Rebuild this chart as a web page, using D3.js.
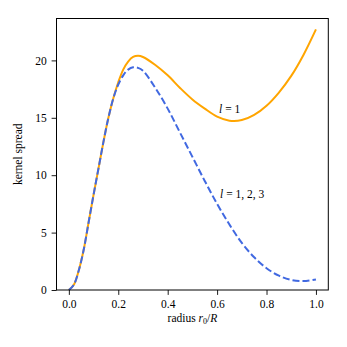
<!DOCTYPE html>
<html>
<head>
<meta charset="utf-8">
<script src="https://cdn.jsdelivr.net/npm/d3@7"></script>
<style>
  body { margin: 0; background: #fff; }
  text { font-family: "Liberation Serif", "DejaVu Serif", serif; fill: #000; }
</style>
</head>
<body>
<script>
// radius r0/R の標本点
var radius = [0, 0.02, 0.04, 0.06, 0.08, 0.10, 0.12, 0.14, 0.16, 0.18,
              0.20, 0.22, 0.24, 0.26, 0.28, 0.30, 0.35, 0.40, 0.45, 0.50,
              0.55, 0.60, 0.65, 0.70, 0.75, 0.80, 0.85, 0.90, 0.95, 1.00];

// l = 1 (実線・オレンジ)
var spreadL1 = [0, 0.45, 1.7, 3.5, 5.9, 8.3, 10.6, 12.9, 15.0, 16.7,
                18.1, 19.2, 19.9, 20.3, 20.4, 20.3, 19.6, 18.7, 17.6, 16.6,
                15.8, 15.1, 14.75, 14.8, 15.25, 16.05, 17.2, 18.65, 20.5, 22.7];

// l = 1, 2, 3 (破線・青)
var spreadL123 = [0, 0.45, 1.7, 3.5, 5.9, 8.3, 10.6, 12.9, 15.0, 16.7,
                  17.9, 18.7, 19.2, 19.4, 19.35, 19.1, 17.6, 15.8, 13.7, 11.6,
                  9.5, 7.5, 5.7, 4.1, 2.85, 1.9, 1.25, 0.88, 0.78, 0.92];

var xTicks = [0, 0.2, 0.4, 0.6, 0.8, 1.0];
var yTicks = [0, 5, 10, 15, 20];

var width = 347, height = 347;
var plotL = 56.5, plotR = 328.3, plotT = 18.5, plotB = 290;
var tickLen = 4.9, tickPad = 4.9;

var svg = d3.select("body").append("svg")
    .attr("width", width)
    .attr("height", height);

var x = d3.scaleLinear().domain([-0.05, 1.05]).range([plotL, plotR]);
var y = d3.scaleLinear().domain([0, 23.65]).range([plotB, plotT]);

// 曲線
var line = d3.line()
    .x(function(d) { return x(d[0]); })
    .y(function(d) { return y(d[1]); })
    .curve(d3.curveCatmullRom.alpha(0.5));

svg.append("path")
    .datum(d3.zip(radius, spreadL1))
    .attr("d", line)
    .attr("fill", "none")
    .attr("stroke", "#FFA500")
    .attr("stroke-width", 2);

svg.append("path")
    .datum(d3.zip(radius, spreadL123))
    .attr("d", line)
    .attr("fill", "none")
    .attr("stroke", "#4169E1")
    .attr("stroke-width", 2)
    .attr("stroke-dasharray", "7,3");

// 軸
function styleAxis(g) {
    g.attr("font-family", null).attr("font-size", null);
    g.select(".domain").remove();
    g.selectAll("line").attr("stroke", "#000").attr("stroke-width", 0.9);
    g.selectAll("text").style("font-size", "11.5px");
}

svg.append("g")
    .attr("transform", "translate(0," + plotB + ")")
    .call(d3.axisBottom(x).tickValues(xTicks).tickFormat(d3.format(".1f"))
        .tickSizeInner(tickLen).tickSizeOuter(0).tickPadding(tickPad))
    .call(styleAxis);

svg.append("g")
    .attr("transform", "translate(" + plotL + ",0)")
    .call(d3.axisLeft(y).tickValues(yTicks).tickFormat(d3.format("d"))
        .tickSizeInner(tickLen).tickSizeOuter(0).tickPadding(tickPad))
    .call(styleAxis);

// 枠
svg.append("rect")
    .attr("x", plotL).attr("y", plotT)
    .attr("width", plotR - plotL).attr("height", plotB - plotT)
    .attr("fill", "none")
    .attr("stroke", "#000")
    .attr("stroke-width", 1);

// 軸ラベル
var xl = svg.append("text")
    .attr("x", (plotL + plotR) / 2).attr("y", 322)
    .attr("text-anchor", "middle")
    .style("font-size", "11.5px");
xl.append("tspan").text("radius ");
xl.append("tspan").attr("font-style", "italic").text("r");
xl.append("tspan").style("font-size", "8px").attr("dy", 2).text("0");
xl.append("tspan").attr("dy", -2).text("/");
xl.append("tspan").attr("font-style", "italic").text("R");

svg.append("text")
    .attr("transform", "translate(21.5," + (plotT + plotB) / 2 + ") rotate(-90)")
    .attr("text-anchor", "middle")
    .style("font-size", "11.5px")
    .text("kernel spread");

// 注釈
function label(xv, yv, parts) {
    var t = svg.append("text")
        .attr("x", x(xv)).attr("y", y(yv))
        .style("font-size", "11.5px");
    t.append("tspan").attr("font-style", "italic").text("l");
    t.append("tspan").text(parts);
}
label(0.608, 15.4, " = 1");
label(0.612, 8.05, " = 1, 2, 3");
</script>
</body>
</html>
